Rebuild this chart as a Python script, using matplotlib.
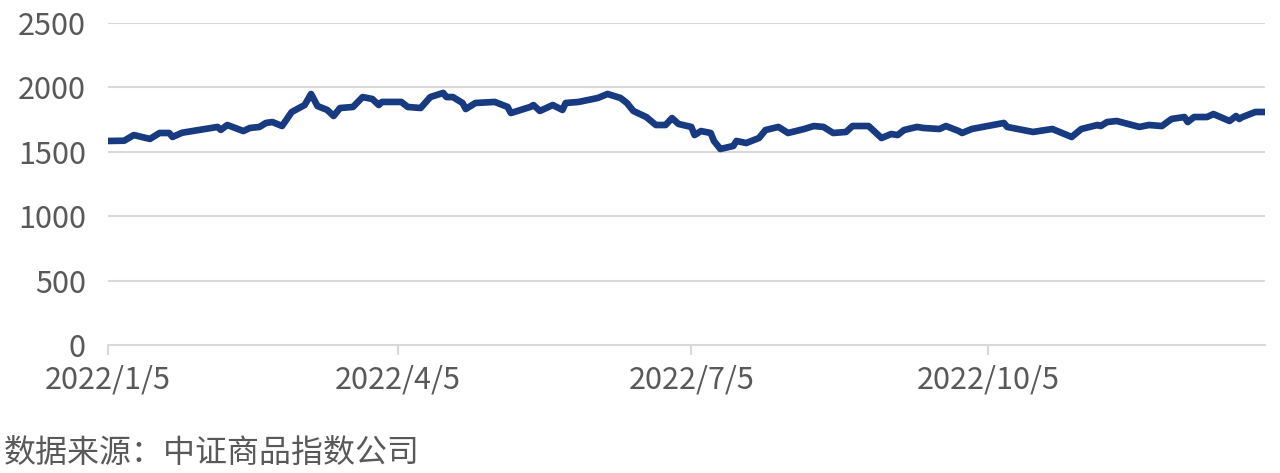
import matplotlib
matplotlib.use('Agg')
import matplotlib.pyplot as plt
import matplotlib.dates as mdates
import numpy as np
import pandas as pd

plt.rcParams['font.family'] = ['Noto Sans CJK SC', 'DejaVu Sans']

# 中证商品指数 2022
dates = ['2022-01-05', '2022-01-10', '2022-01-13', '2022-01-18', '2022-01-21', '2022-01-24',
         '2022-01-25', '2022-01-28', '2022-02-08', '2022-02-09', '2022-02-11', '2022-02-16',
         '2022-02-18', '2022-02-21', '2022-02-23', '2022-02-25', '2022-02-28', '2022-03-03',
         '2022-03-07', '2022-03-09', '2022-03-11', '2022-03-14', '2022-03-16', '2022-03-18',
         '2022-03-22', '2022-03-25', '2022-03-28', '2022-03-30', '2022-03-31', '2022-04-06',
         '2022-04-08', '2022-04-12', '2022-04-15', '2022-04-19', '2022-04-20', '2022-04-22',
         '2022-04-25', '2022-04-26', '2022-04-29', '2022-05-05', '2022-05-09', '2022-05-10',
         '2022-05-16', '2022-05-17', '2022-05-19', '2022-05-23', '2022-05-26', '2022-05-27',
         '2022-05-31', '2022-06-06', '2022-06-09', '2022-06-13', '2022-06-15', '2022-06-17',
         '2022-06-21', '2022-06-24', '2022-06-27', '2022-06-29', '2022-07-01', '2022-07-05',
         '2022-07-06', '2022-07-08', '2022-07-11', '2022-07-12', '2022-07-14', '2022-07-18',
         '2022-07-19', '2022-07-22', '2022-07-26', '2022-07-28', '2022-08-01', '2022-08-04',
         '2022-08-09', '2022-08-12', '2022-08-15', '2022-08-18', '2022-08-22', '2022-08-24',
         '2022-08-29', '2022-09-02', '2022-09-05', '2022-09-07', '2022-09-09', '2022-09-13',
         '2022-09-15', '2022-09-20', '2022-09-22', '2022-09-26', '2022-09-27', '2022-09-30',
         '2022-10-10', '2022-10-11', '2022-10-19', '2022-10-25', '2022-10-31', '2022-11-03',
         '2022-11-08', '2022-11-09', '2022-11-11', '2022-11-14', '2022-11-21', '2022-11-24',
         '2022-11-28', '2022-12-01', '2022-12-05', '2022-12-06', '2022-12-08', '2022-12-12',
         '2022-12-14', '2022-12-19', '2022-12-21', '2022-12-22', '2022-12-23', '2022-12-27',
         '2022-12-30']
values = [1584, 1586, 1630, 1600, 1646, 1646,
          1615, 1648, 1693, 1670, 1708, 1661,
          1685, 1693, 1724, 1731, 1700, 1809,
          1863, 1949, 1855, 1825, 1778, 1840,
          1848, 1925, 1910, 1863, 1887, 1887,
          1848, 1840, 1925, 1957, 1925, 1925,
          1879, 1832, 1879, 1887, 1848, 1801,
          1848, 1863, 1817, 1863, 1825, 1879,
          1887, 1918, 1949, 1918, 1879, 1817,
          1770, 1708, 1708, 1762, 1716, 1693,
          1630, 1661, 1646, 1584, 1522, 1545,
          1584, 1568, 1607, 1669, 1693, 1646,
          1677, 1700, 1693, 1646, 1654, 1700,
          1700, 1607, 1638, 1630, 1669, 1693,
          1685, 1677, 1700, 1661, 1646, 1677,
          1724, 1693, 1654, 1677, 1615, 1677,
          1708, 1700, 1731, 1739, 1693, 1708,
          1700, 1755, 1770, 1731, 1770, 1770,
          1793, 1739, 1778, 1755, 1770, 1809,
          1809]
tick_dates = ['2022-01-05', '2022-04-05', '2022-07-05', '2022-10-05']
tick_labels = ['2022/1/5', '2022/4/5', '2022/7/5', '2022/10/5']
y_ticks = [0, 500, 1000, 1500, 2000, 2500]
source = '数据来源：中证商品指数公司'

x = pd.to_datetime(dates)
grey = '#595959'

fig = plt.figure(figsize=(12.8, 4.73), dpi=100)
ax = fig.add_axes([0.0844, 0.2706, 0.9039, 0.6808])

for yv in y_ticks[1:]:
    ax.axhline(yv, color='#d9d9d9', lw=1.5, zorder=1)
ax.plot(x, values, color='#173a80', lw=4.8, solid_joinstyle='round',
        solid_capstyle='round', zorder=3)

ax.set_ylim(0, 2500)
ax.set_xlim(pd.Timestamp('2022-01-05'), pd.Timestamp('2022-12-30'))
ax.set_yticks(y_ticks)
ax.set_xticks(pd.to_datetime(tick_dates))
ax.set_xticklabels(tick_labels)

for s in ['top', 'right', 'left']:
    ax.spines[s].set_visible(False)
ax.spines['bottom'].set_color('#d9d9d9')
ax.spines['bottom'].set_linewidth(1.5)
ax.tick_params(axis='y', length=0, pad=16, labelsize=22, labelcolor=grey)
ax.tick_params(axis='x', length=7, width=1.5, color='#d9d9d9', direction='out',
               pad=7, labelsize=22, labelcolor=grey)

fig.text(0.003, 0.04, source, fontsize=23, color=grey, ha='left', va='center')

fig.savefig('out.png', dpi=100)
